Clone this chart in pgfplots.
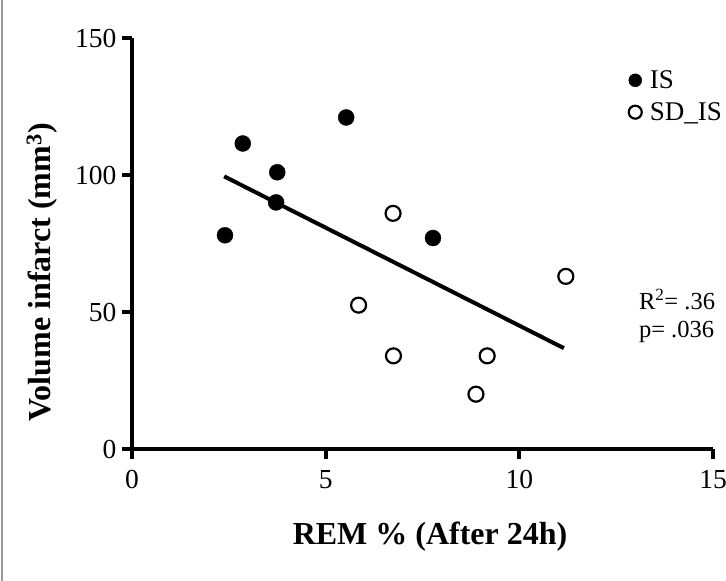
\documentclass[border=0pt]{standalone}
\usepackage{fontspec}
\setmainfont{Liberation Serif}
\usepackage{pgfplots}
\pgfplotsset{compat=1.18}
\begin{document}
\begin{tikzpicture}
\useasboundingbox (-132pt,-132pt) rectangle (594pt,449pt);
\draw[gray!80, line width=2pt] (-130pt,-132pt) -- (-130pt,449pt);
\begin{axis}[
  at={(0pt,0pt)}, anchor=south west,
  scale only axis, width=581pt, height=411pt,
  xmin=0, xmax=15, ymin=0, ymax=150,
  axis x line=bottom, axis y line=left,
  axis line style={-, line width=4pt, black},
  xtick={0,5,10,15}, ytick={0,50,100,150},
  tick align=outside, major tick length=10pt,
  every tick/.style={black, line width=4pt},
  tick label style={font=\fontsize{27.5}{32}\selectfont},
  /pgf/number format/assume math mode=true,
  xticklabel style={yshift=-8pt},
  yticklabel style={xshift=-2pt},
  xlabel={REM \% (After 24h)},
  ylabel={Volume infarct (mm\textsuperscript{3})},
  label style={font=\fontsize{32}{36}\selectfont\bfseries},
  xlabel style={at={(axis description cs:0.513,-0.214)}, anchor=center},
  ylabel style={at={(axis description cs:-0.155,0.43)}, anchor=center},
  legend cell align=left,
  legend image code/.code={\draw[#1, mark size=6.5pt, only marks] plot coordinates {(6.5pt,0pt)};},
  legend style={draw=none, fill=none, at={(axis cs:12.82,138.9)}, anchor=north west,
    font=\fontsize{27}{30}\selectfont, row sep=8.5pt, column sep=6pt, inner sep=0pt},
  clip=false,
]
\addplot[black, line width=4pt, no marks, forget plot] coordinates {(2.38,99.5) (11.15,36.8)};
\addplot[only marks, mark=*, mark size=8pt, black] coordinates {
(2.40,78) (2.86,111.5) (3.75,101) (3.72,90) (5.53,121) (7.77,77)
};
\addlegendentry{IS}
\addplot[only marks, mark=o, mark size=7.5pt, black, line width=2.2pt, mark options={fill=white}] coordinates {
(6.74,86) (5.85,52.5) (6.75,34) (9.17,34) (8.88,20) (11.2,63)
};
\addlegendentry{SD\_IS}
\node[anchor=west, font=\fontsize{24.5}{28}\selectfont] at (axis cs:13.0,54.4) {R\textsuperscript{2}= .36};
\node[anchor=west, font=\fontsize{24.5}{28}\selectfont] at (axis cs:13.0,42.7) {p= .036};
\end{axis}
\end{tikzpicture}
\end{document}
